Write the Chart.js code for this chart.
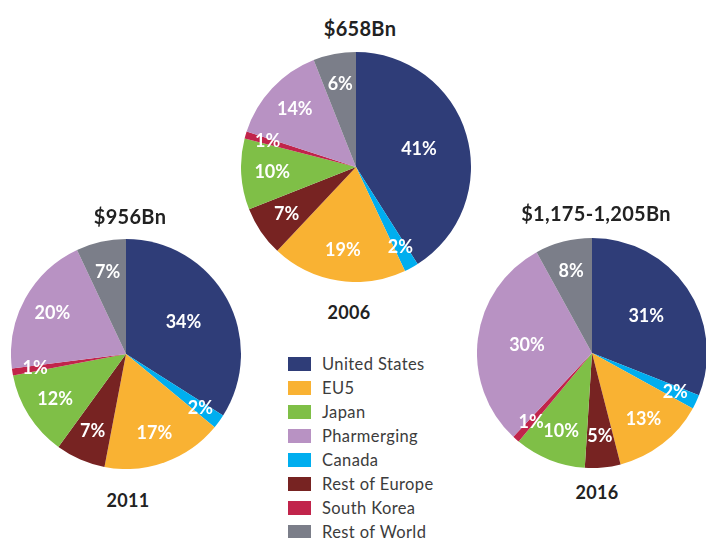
<!DOCTYPE html>
<html>
<head>
<meta charset="utf-8">
<script src="https://cdn.jsdelivr.net/npm/chart.js@4/dist/chart.umd.min.js"></script>
<style>
  html, body { margin: 0; padding: 0; background: #fff; }
  body { width: 706px; height: 538px; position: relative; overflow: hidden; font-family: Lato, "Open Sans", sans-serif; }
  canvas { position: absolute; }
  .title { position: absolute; font-weight: bold; font-size: 20px; color: #222; text-align: center; width: 240px; line-height: 22px; letter-spacing: 0.3px; }
  .year { position: absolute; font-weight: bold; font-size: 18px; color: #222; text-align: center; width: 120px; line-height: 22px; letter-spacing: 0.3px; }
  #legend { position: absolute; left: 288px; top: 352px; }
  .item { height: 24px; display: flex; align-items: center; font-size: 16.5px; color: #3c3c3c; letter-spacing: 0.4px; }
  .swatch { width: 23px; height: 14px; margin-right: 11px; }
</style>
</head>
<body>
<canvas id="pie2006" width="230" height="230" style="left:241px;top:52px"></canvas>
<canvas id="pie2011" width="230" height="230" style="left:11px;top:239px"></canvas>
<canvas id="pie2016" width="230" height="230" style="left:477px;top:238px"></canvas>

<div class="title" style="left:240px;top:17px">$658Bn</div>
<div class="year" style="left:289px;top:301px">2006</div>
<div class="title" style="left:10px;top:205px">$956Bn</div>
<div class="year" style="left:68px;top:489px">2011</div>
<div class="title" style="left:476px;top:202px">$1,175-1,205Bn</div>
<div class="year" style="left:537px;top:481px">2016</div>

<div id="legend"></div>

<script>
// slice order, clockwise from 12 o'clock
const categories = ['United States', 'Canada', 'EU5', 'Rest of Europe', 'Japan', 'South Korea', 'Pharmerging', 'Rest of World'];
const colors = ['#2f3d78', '#00aeef', '#f9b233', '#772322', '#7fbf47', '#c1244b', '#b892c3', '#7b7e89'];
const legendOrder = ['United States', 'EU5', 'Japan', 'Pharmerging', 'Canada', 'Rest of Europe', 'South Korea', 'Rest of World'];

const values2006 = [41, 2, 19, 7, 10, 1, 14, 6];
const values2011 = [34, 2, 17, 7, 12, 1, 20, 7];
const values2016 = [31, 2, 13, 5, 10, 1, 30, 8];

// white percentage labels inside slices
const sliceLabels = {
  id: 'sliceLabels',
  afterDatasetsDraw(chart) {
    const c = chart.ctx;
    const meta = chart.getDatasetMeta(0);
    const data = chart.data.datasets[0].data;
    c.save();
    c.fillStyle = '#fff';
    c.font = 'bold 18px Lato, "Open Sans", sans-serif';
    c.textAlign = 'center';
    c.textBaseline = 'middle';
    meta.data.forEach((arc, i) => {
      const p = arc.getProps(['startAngle', 'endAngle', 'outerRadius', 'x', 'y'], true);
      const mid = (p.startAngle + p.endAngle) / 2;
      const r = p.outerRadius * (data[i] >= 25 ? 0.57 : (data[i] <= 2 ? 0.8 : 0.73));
      c.fillText(data[i] + '%', p.x + Math.cos(mid) * r, p.y + Math.sin(mid) * r);
    });
    c.restore();
  }
};

function makePie(id, values) {
  return new Chart(document.getElementById(id), {
    type: 'pie',
    data: {
      labels: categories,
      datasets: [{
        data: values,
        backgroundColor: colors,
        borderWidth: 0
      }]
    },
    options: {
      responsive: false,
      animation: false,
      layout: { padding: 0 },
      plugins: {
        legend: { display: false },
        tooltip: { enabled: false }
      }
    },
    plugins: [sliceLabels]
  });
}

makePie('pie2006', values2006);
makePie('pie2011', values2011);
makePie('pie2016', values2016);

const legend = document.getElementById('legend');
legendOrder.forEach(name => {
  const row = document.createElement('div');
  row.className = 'item';
  row.innerHTML = `<span class="swatch" style="background:${colors[categories.indexOf(name)]}"></span>${name}`;
  legend.appendChild(row);
});
</script>
</body>
</html>
